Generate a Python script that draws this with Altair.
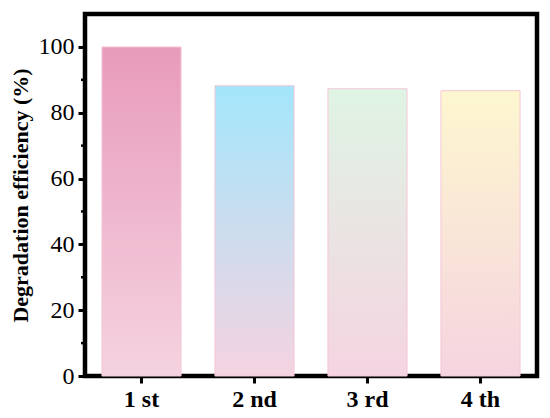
import altair as alt
import pandas as pd

categories = ["1 st", "2 nd", "3 rd", "4 th"]
values = [100.0, 88.2, 87.3, 86.7]
top_colors = ["#E89BBB", "#A3E6FB", "#DFF4E4", "#FDF7CF"]
bottom_colors = ["#F5D3E0", "#F5D3E1", "#F5D4E1", "#F6D4E0"]
minor_ticks = [10, 30, 50, 70, 90]

df = pd.DataFrame({"cat": categories, "val": values})
minor_df = pd.DataFrame({"val": minor_ticks})

FONT = "Liberation Serif"

x_enc = alt.X("cat:N", sort=categories,
              scale=alt.Scale(paddingInner=0.3, paddingOuter=0.15),
              axis=alt.Axis(title=None, labelAngle=0, labelFont=FONT, labelFontSize=24,
                            labelFontWeight="bold", labelColor="black", domain=False,
                            tickColor="black", tickWidth=3, tickSize=7, labelPadding=4))
y_scale = alt.Scale(domain=[0, 110], nice=False)
y_enc = alt.Y("val:Q", scale=y_scale,
              axis=alt.Axis(title="Degradation efficiency (%)", values=[0, 20, 40, 60, 80, 100],
                            labelFont=FONT, labelFontSize=24, labelColor="black",
                            titleFont=FONT, titleFontSize=22, titleFontWeight="bold",
                            titleColor="black", domain=False, grid=False,
                            tickColor="black", tickWidth=3, tickSize=7, labelPadding=4,
                            titlePadding=6))

layers = []
for i, c in enumerate(categories):
    grad = alt.Gradient(gradient="linear",
                        stops=[alt.GradientStop(color=top_colors[i], offset=0),
                               alt.GradientStop(color=bottom_colors[i], offset=1)],
                        x1=0, x2=0, y1=0, y2=1)
    layers.append(
        alt.Chart(df).transform_filter(alt.datum.cat == c)
        .mark_bar(color=grad, stroke="#F4C7D8", strokeWidth=1)
        .encode(x=x_enc, y=y_enc)
    )

minor = alt.Chart(minor_df).mark_rule(color="black", strokeWidth=2.5).encode(
    y=alt.Y("val:Q", scale=y_scale),
    x=alt.value(-4), x2=alt.value(0),
)
layers.append(minor)

chart = alt.layer(*layers).properties(
    width=452, height=362,
    autosize=alt.AutoSizeParams(type="none"),
    padding={"left": 77, "top": 6, "right": 5, "bottom": 36},
).configure_view(stroke="black", strokeWidth=4.5)

chart.save("out.html", embed_options={"renderer": "svg", "actions": False})
